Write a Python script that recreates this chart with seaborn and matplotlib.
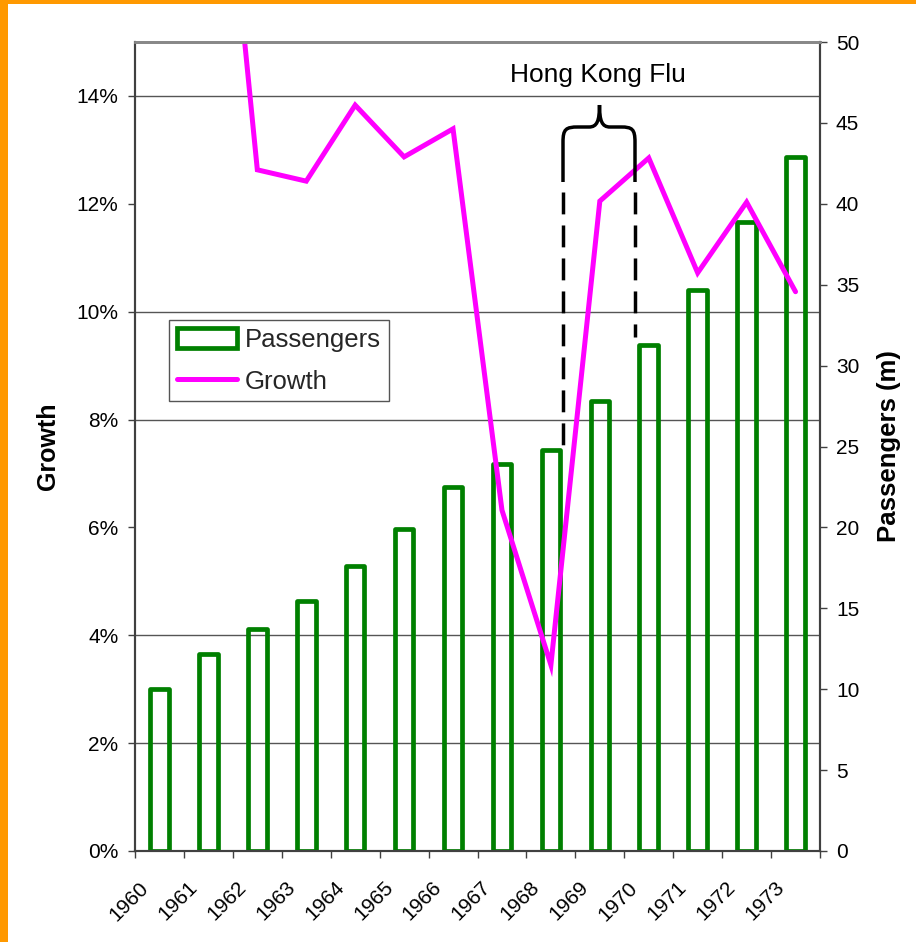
import numpy as np
import pandas as pd
import matplotlib
matplotlib.use("Agg")
import matplotlib.pyplot as plt
import seaborn as sns
import matplotlib.transforms as mtransforms
from matplotlib.patches import Rectangle, PathPatch
from matplotlib.path import Path
from matplotlib.lines import Line2D
from matplotlib.ticker import FixedLocator, FuncFormatter

# ---------------- data ----------------
years = [str(y) for y in range(1960, 1974)]
passengers = [10.0, 12.2, 13.7, 15.45, 17.6, 19.9, 22.5, 23.9, 24.8, 27.8, 31.3, 34.7, 38.9, 42.9]
growth = [np.nan, 0.218, 0.1263, 0.1242, 0.1383, 0.1287, 0.1339, 0.0632, 0.0345,
          0.1205, 0.1285, 0.1072, 0.1203, 0.1037]
growth_ticks = [0.0, 0.02, 0.04, 0.06, 0.08, 0.10, 0.12, 0.14]
passenger_ticks = list(range(0, 51, 5))
growth_lim = (0.0, 0.15)
passenger_lim = (0, 50)
annotation_text = "Hong Kong Flu"

# ---------------- style ----------------
sns.set_theme(style="white")
plt.rcParams["font.family"] = ["Liberation Sans", "DejaVu Sans"]

GREEN = "#008000"
MAGENTA = "#FF00FF"
ORANGE = "#FF9900"
AXCOL = "#404040"

W, H = 916, 942
fig = plt.figure(figsize=(W / 100, H / 100), dpi=100)
fig.patch.set_facecolor("white")

# orange frame strips (left and top)
fig.add_artist(Rectangle((0, 0), 8 / W, 1, transform=fig.transFigure,
                         facecolor=ORANGE, edgecolor="none", zorder=0))
fig.add_artist(Rectangle((0, 1 - 4 / H), 1, 4 / H, transform=fig.transFigure,
                         facecolor=ORANGE, edgecolor="none", zorder=0))

L, R, T, B = 135, 820, 42, 851
ax_bar = fig.add_axes([L / W, 1 - B / H, (R - L) / W, (B - T) / H])

df = pd.DataFrame({"year": years, "passengers": passengers, "growth": growth})
df["pos"] = np.arange(len(df))

sns.barplot(data=df, x="year", y="passengers", ax=ax_bar, fill=False,
            color=GREEN, linewidth=3.4, width=0.38, errorbar=None)
for p in ax_bar.patches:
    p.set_edgecolor(GREEN)
    p.set_facecolor("none")
    p.set_joinstyle("round")

ax_line = ax_bar.twinx()
sns.lineplot(data=df, x="pos", y="growth", ax=ax_line, color=MAGENTA,
             linewidth=3.6, legend=False)
for ln in ax_line.lines:
    ln.set_solid_joinstyle("miter")

# axes limits
ax_bar.set_xlim(-0.5, len(years) - 0.5)
ax_bar.set_ylim(*passenger_lim)
ax_line.set_ylim(*growth_lim)

# y axes placement
ax_line.yaxis.tick_left()
ax_line.yaxis.set_label_position("left")
ax_bar.yaxis.tick_right()
ax_bar.yaxis.set_label_position("right")

ax_line.yaxis.set_major_locator(FixedLocator(growth_ticks))
ax_line.yaxis.set_major_formatter(FuncFormatter(lambda v, _: f"{v * 100:.0f}%"))
ax_bar.yaxis.set_major_locator(FixedLocator(passenger_ticks))

# gridlines at growth ticks, drawn in the bar axes (behind bars)
scale = (passenger_lim[1] - passenger_lim[0]) / (growth_lim[1] - growth_lim[0])
ax_bar.yaxis.set_minor_locator(FixedLocator([t * scale for t in growth_ticks]))
ax_bar.grid(False)
ax_bar.grid(axis="y", which="minor", color="#555555", linewidth=1.0)
ax_bar.set_axisbelow(True)
ax_line.grid(False)

# tick styling
ax_line.tick_params(axis="y", which="major", left=True, right=False, length=5, width=1,
                    color=AXCOL, direction="out", pad=7, labelsize=15, labelcolor="black")
ax_bar.tick_params(axis="y", which="major", right=True, left=False, length=5, width=1,
                   color=AXCOL, direction="out", pad=6.5, labelsize=15, labelcolor="black")
ax_bar.tick_params(axis="y", which="minor", length=0, left=False, right=False)

ax_bar.xaxis.set_minor_locator(FixedLocator(np.arange(-0.5, len(years), 1.0)))
ax_bar.tick_params(axis="x", which="minor", bottom=True, length=5, width=1,
                   color=AXCOL, direction="out")
ax_bar.tick_params(axis="x", which="major", bottom=True, length=0, pad=19.4,
                   labelsize=15, labelcolor="black", labelrotation=45)
offset = mtransforms.ScaledTranslation(-7.5 / 100, 0, fig.dpi_scale_trans)
for lab in ax_bar.get_xticklabels():
    lab.set_ha("right")
    lab.set_transform(lab.get_transform() + offset)

# spines
for a in (ax_bar, ax_line):
    for s in ("left", "right", "bottom"):
        a.spines[s].set_color(AXCOL)
        a.spines[s].set_linewidth(1.5)
    a.spines["top"].set_color("#888888")
    a.spines["top"].set_linewidth(2)

# labels
ax_bar.set_xlabel("")
ax_line.set_xlabel("")
ax_line.set_ylabel("Growth", fontsize=18, fontweight="bold", color="black")
ax_line.yaxis.set_label_coords(-0.109, 0.5)
ax_bar.set_ylabel("Passengers (m)", fontsize=18.5, fontweight="bold", color="black")
ax_bar.yaxis.set_label_coords(1.083, 0.5)

# legend
handles = [Rectangle((0, 0), 1, 1, facecolor="none", edgecolor=GREEN, linewidth=3.4),
           Line2D([], [], color=MAGENTA, linewidth=3.6)]
leg = fig.legend(handles, ["Passengers", "Growth"], loc="upper left",
                 bbox_to_anchor=(169 / W, 1 - 320 / H), frameon=True, fancybox=False,
                 edgecolor="#555555", framealpha=1, fontsize=18.5, handlelength=2.35,
                 handleheight=0.8, handletextpad=0.3, borderpad=0.3, labelspacing=0.7,
                 borderaxespad=0)
leg.get_frame().set_linewidth(1)

# annotation: text, brace, dashed lines (positions in figure pixels)
px = mtransforms.Affine2D().scale(1 / W, -1 / H).translate(0, 1) + fig.transFigure
fig.text(598 / W, 1 - 81.7 / H, annotation_text, ha="center", va="baseline",
         fontsize=19, color="black")

verts = [
    (563, 182), (563, 142),
    (563, 129), (566, 127), (578, 127),
    (589, 127),
    (597, 127), (599.5, 121), (599.5, 105),
    (599.5, 121), (602, 127), (610, 127),
    (621, 127),
    (632, 127), (635, 129), (635, 142),
    (635, 182),
]
codes = [Path.MOVETO, Path.LINETO,
         Path.CURVE4, Path.CURVE4, Path.CURVE4,
         Path.LINETO,
         Path.CURVE4, Path.CURVE4, Path.CURVE4,
         Path.CURVE4, Path.CURVE4, Path.CURVE4,
         Path.LINETO,
         Path.CURVE4, Path.CURVE4, Path.CURVE4,
         Path.LINETO]
fig.add_artist(PathPatch(Path(verts, codes), transform=px, facecolor="none",
                         edgecolor="black", linewidth=2.5, zorder=5))
fig.add_artist(Line2D([563, 563], [192, 446], transform=px, color="black",
                      linewidth=2.5, linestyle=(0, (6.3, 3.2)), zorder=5))
fig.add_artist(Line2D([635, 635], [192, 337], transform=px, color="black",
                      linewidth=2.5, linestyle=(0, (6.3, 3.2)), zorder=5))

fig.savefig("out.png", dpi=100, facecolor=fig.get_facecolor())
